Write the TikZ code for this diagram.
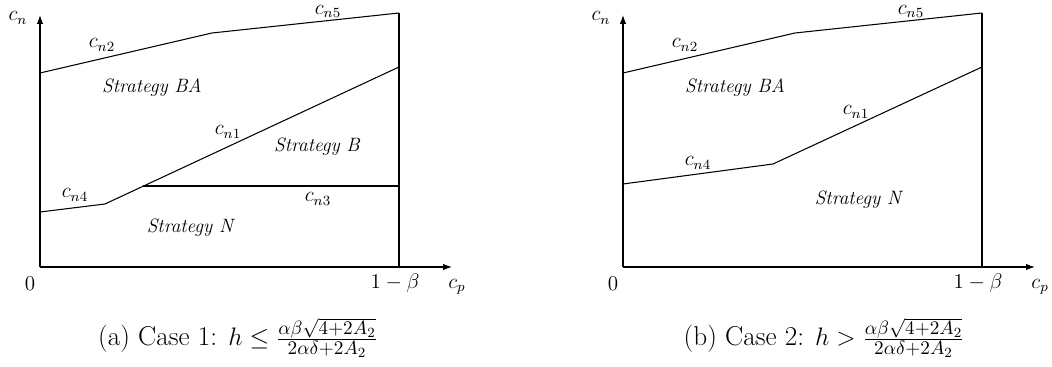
\documentclass[tikz,border=0pt]{standalone}
\usetikzlibrary{arrows.meta}

\tikzset{
  bnd/.style={line width=0.6pt},
  axis/.style={line width=0.6pt, -{Latex[length=5pt,width=3.6pt]}},
  lbl/.style={font=\fontsize{11.5}{13}\selectfont, inner sep=0pt},
  region/.style={font=\fontsize{11}{13}\selectfont\itshape, inner sep=0pt},
  capt/.style={font=\fontsize{15.5}{18}\selectfont, inner sep=0pt},
}

\begin{document}
\begin{tikzpicture}[x=0.02cm, y=-0.02cm]
\useasboundingbox (0,0) rectangle (1052,367);

% --- frame and upper boundary, same in both panels ---
\foreach \s/\p in {0/a,583/b} {
  \begin{scope}[shift={(\s,0)}]
    \coordinate (\p-O) at (40,267);
    \coordinate (\p-Y) at (40,15);
    \coordinate (\p-X) at (452,267);
    \coordinate (\p-R) at (399,267);
    \coordinate (\p-T) at (399,13);
    \coordinate (\p-U0) at (40,73);
    \coordinate (\p-U1) at (212,33);

    \draw[axis] (\p-O) -- (\p-Y);
    \draw[axis] (\p-O) -- (\p-X);
    \draw[bnd] (\p-R) -- (\p-T);
    \draw[bnd] (\p-U0) -- (\p-U1) -- (\p-T);

    \node[lbl] (\p-cn) at (18,18) {$c_n$};
    \node[lbl] (\p-cp) at (457,287) {$c_p$};
    \node[lbl] (\p-zero) at (30,284) {$0$};
    \node[lbl] (\p-one) at (395,283) {$1-\beta$};
    \node[lbl] (\p-n2) at (102,45) {$c_{n2}$};
    \node[lbl, anchor=south] (\p-n5) at (328,18) {$c_{n5}$};
    \node[region] (\p-BA) at (152,88) {Strategy BA};
  \end{scope}
}

% --- Left panel: case 1 ---
\coordinate (a-L0) at (40,212);
\coordinate (a-L1) at (105,204);
\coordinate (a-L2) at (399,67);
\coordinate (a-K) at (143,186);
\coordinate (a-KR) at (399,186);
\draw[bnd] (a-L0) -- (a-L1) -- (a-L2);
\draw[bnd] (a-K) -- (a-KR);

\node[lbl] (a-n1) at (228,132) {$c_{n1}$};
\node[lbl] (a-n4) at (75,195) {$c_{n4}$};
\node[lbl] (a-n3) at (318,199) {$c_{n3}$};
\node[region] (a-B) at (317,147) {Strategy B};
\node[region] (a-N) at (190,228) {Strategy N};

\node[capt] (a-cap) at (238,338)
  {(a) Case 1: $h \leq \frac{\alpha\beta\sqrt{4+2A_2}}{2\alpha\delta+2A_2}$};

% --- Right panel: case 2 ---
\begin{scope}[shift={(583,0)}]
  \coordinate (b-L0) at (40,184);
  \coordinate (b-L1) at (190,164);
  \coordinate (b-L2) at (399,67);
  \draw[bnd] (b-L0) -- (b-L1) -- (b-L2);

  \node[lbl] (b-n1) at (273,112) {$c_{n1}$};
  \node[lbl] (b-n4) at (115,163) {$c_{n4}$};
  \node[region] (b-N) at (275,200) {Strategy N};

  \node[capt] (b-cap) at (241,338)
    {(b) Case 2: $h > \frac{\alpha\beta\sqrt{4+2A_2}}{2\alpha\delta+2A_2}$};
\end{scope}

\end{tikzpicture}
\end{document}
